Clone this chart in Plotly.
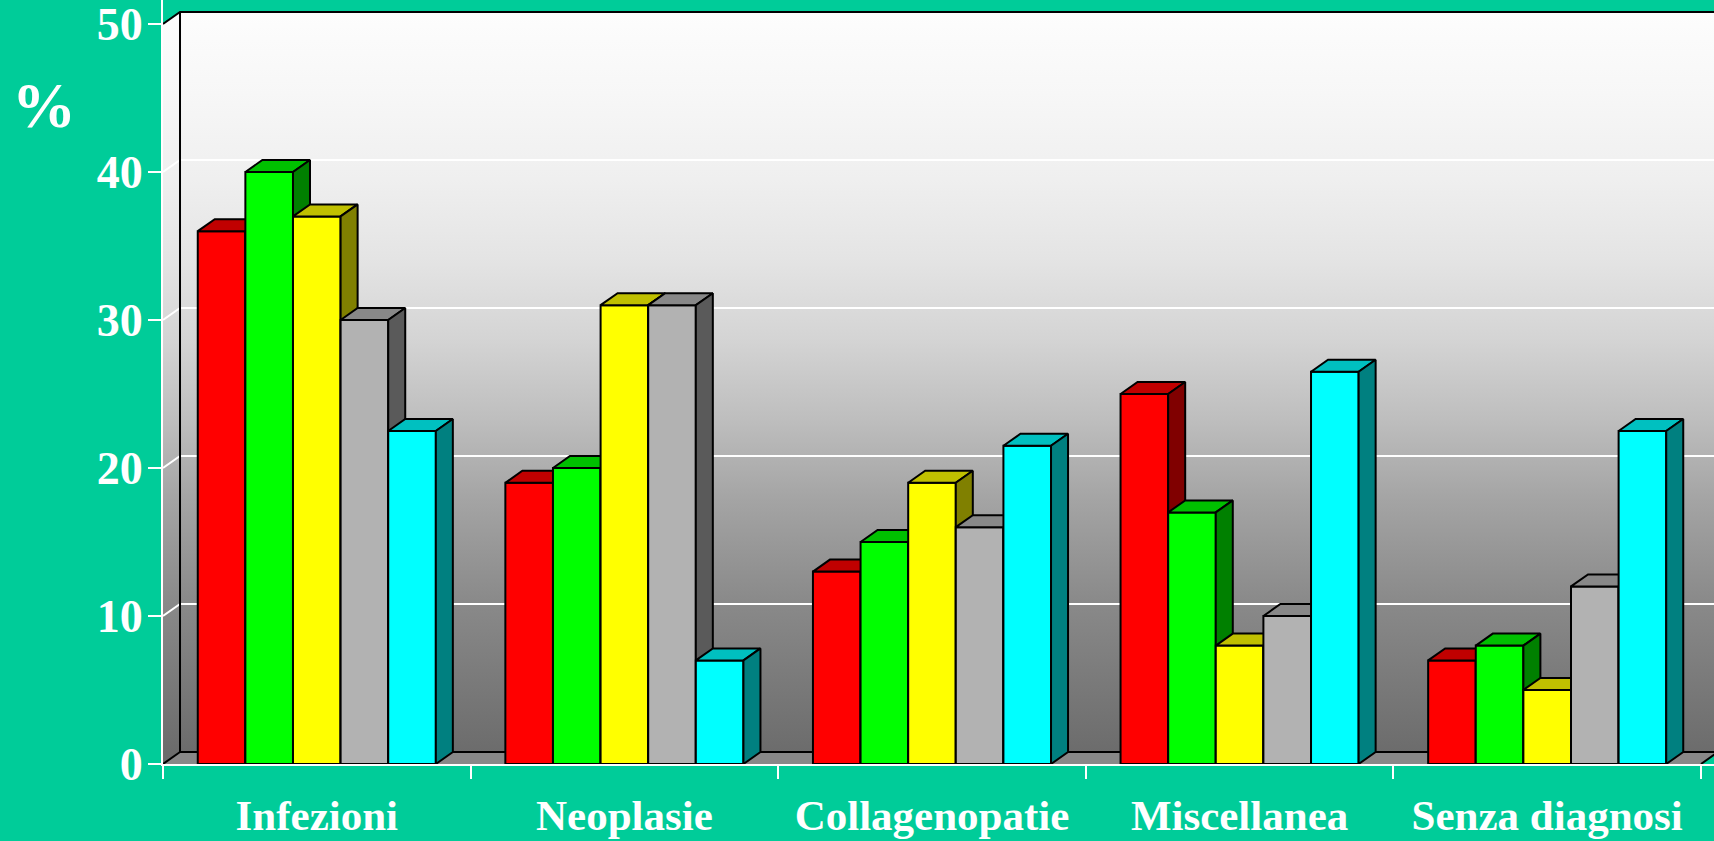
import plotly.graph_objects as go

# Data (percent of cases per diagnostic group, five series)
categories = ["Infezioni", "Neoplasie", "Collagenopatie", "Miscellanea", "Senza diagnosi"]
serie_rossa = [36, 19, 13, 25, 7]
serie_verde = [40, 20, 15, 17, 8]
serie_gialla = [37, 31, 19, 8, 5]
serie_grigia = [30, 31, 16, 10, 12]
serie_ciano = [22.5, 7, 21.5, 26.5, 22.5]
y_ticks = [0, 10, 20, 30, 40, 50]

series = [serie_rossa, serie_verde, serie_gialla, serie_grigia, serie_ciano]
# (front, top, side) colours per series
face_colors = [
    ("#FF0000", "#C00000", "#800000"),
    ("#00FF00", "#00C000", "#008000"),
    ("#FFFF00", "#C0C000", "#808000"),
    ("#B2B2B2", "#888888", "#5A5A5A"),
    ("#00FFFF", "#00C0C0", "#008080"),
]

BG = "#00CC99"
FONT = "Liberation Serif"

# geometry of the pseudo-3D box (axis units)
BW = 0.1548          # bar width
DX = 0.0553          # depth offset along x
DY = 0.81            # depth offset along y
X0, X1 = -0.5, 4.5   # front floor extent
YMAX = 50
XR = [-0.5, 4.5423]
YR = [0, 51.62]

wall_scale = [
    [0.0, "rgb(108,108,108)"],
    [0.206, "rgb(138,138,138)"],
    [0.341, "rgb(164,164,164)"],
    [0.45, "rgb(190,190,190)"],
    [0.557, "rgb(212,212,212)"],
    [0.666, "rgb(228,228,228)"],
    [0.774, "rgb(239,239,239)"],
    [0.89, "rgb(247,247,247)"],
    [1.0, "rgb(253,253,253)"],
]

fig = go.Figure()


def poly(xs, ys, fill, line_color="black", line_width=0, **kw):
    fig.add_trace(go.Scatter(
        x=xs, y=ys, mode="lines", fill="toself", fillcolor=fill,
        line=dict(color=line_color, width=line_width),
        hoverinfo="skip", showlegend=False, **kw))


def seg(xs, ys, color, width):
    fig.add_trace(go.Scatter(
        x=xs, y=ys, mode="lines", line=dict(color=color, width=width),
        hoverinfo="skip", showlegend=False))


grad = dict(type="vertical", colorscale=wall_scale, start=DY, stop=YMAX + DY)

# back wall
poly([X0 + DX, X0 + DX, X1 + DX, X1 + DX, X0 + DX],
     [DY, YMAX + DY, YMAX + DY, DY, DY], "#cccccc", fillgradient=grad)
# left side wall
poly([X0, X0, X0 + DX, X0 + DX, X0],
     [0, YMAX, YMAX + DY, DY, 0], "#cccccc", fillgradient=grad)
# floor
poly([X0, X0 + DX, X1 + DX, X1, X0], [0, DY, DY, 0, 0], "#888888")

# gridlines on the walls
gx, gy = [], []
for v in y_ticks[1:-1]:
    gx += [X0, X0 + DX, X1 + DX, None]
    gy += [v, v + DY, v + DY, None]
seg(gx, gy, "white", 2)

# box edges
seg([X0, X0 + DX, X1 + DX, None, X0 + DX, X0 + DX, X1 + DX, None, X0, X0 + DX, None, X1, X1 + DX],
    [YMAX, YMAX + DY, YMAX + DY, None, YMAX + DY, DY, DY, None, 0, DY, None, 0, DY],
    "black", 2)

# bars: front, top and side faces, series drawn left to right
for k, vals in enumerate(series):
    front, top, side = face_colors[k]
    fx, fy, tx, ty, sx, sy = [], [], [], [], [], []
    for c, v in enumerate(vals):
        a = c - 2.5 * BW + k * BW
        b = a + BW
        fx += [a, a, b, b, a, None]
        fy += [0, v, v, 0, 0, None]
        tx += [a, a + DX, b + DX, b, a, None]
        ty += [v, v + DY, v + DY, v, v, None]
        sx += [b, b, b + DX, b + DX, b, None]
        sy += [0, v, v + DY, DY, 0, None]
    poly(fx, fy, front, line_width=2)
    poly(tx, ty, top, line_width=2)
    poly(sx, sy, side, line_width=2)

# category labels on an overlaid axis
fig.add_trace(go.Scatter(x=[0], y=[0], xaxis="x2", mode="markers",
                         marker=dict(opacity=0), hoverinfo="skip", showlegend=False))

fig.update_layout(
    width=1714, height=841,
    margin=dict(l=163, r=0, t=0, b=77),
    paper_bgcolor=BG, plot_bgcolor=BG,
    showlegend=False,
    xaxis=dict(range=XR, tickmode="array", tickvals=[i - 0.5 for i in range(6)],
               ticktext=[""] * 6, ticks="outside", ticklen=13, tickwidth=2,
               tickcolor="white", showline=True, linecolor="white", linewidth=2,
               showgrid=False, zeroline=False, fixedrange=True),
    xaxis2=dict(range=XR, overlaying="x", side="bottom", tickmode="array",
                tickvals=list(range(5)), ticktext=categories, ticks="",
                showline=False, showgrid=False, zeroline=False,
                ticklabelstandoff=22, ticklabeloverflow="allow",
                tickfont=dict(family=FONT, size=43, color="white", weight="bold")),
    yaxis=dict(range=YR, tickmode="array", tickvals=y_ticks,
               ticktext=[str(v) for v in y_ticks], ticks="outside", ticklen=13,
               tickwidth=2, tickcolor="white", showline=True, linecolor="white",
               linewidth=2, showgrid=False, zeroline=False, ticklabelstandoff=-4,
               ticklabeloverflow="allow",
               tickfont=dict(family=FONT, size=46, color="white", weight="bold")),
    annotations=[dict(text="%", xref="paper", yref="paper", x=-0.077, y=0.862,
                      showarrow=False, xanchor="center", yanchor="middle",
                      font=dict(family=FONT, size=64, color="white", weight="bold"))],
)

fig.write_html("out.html")
